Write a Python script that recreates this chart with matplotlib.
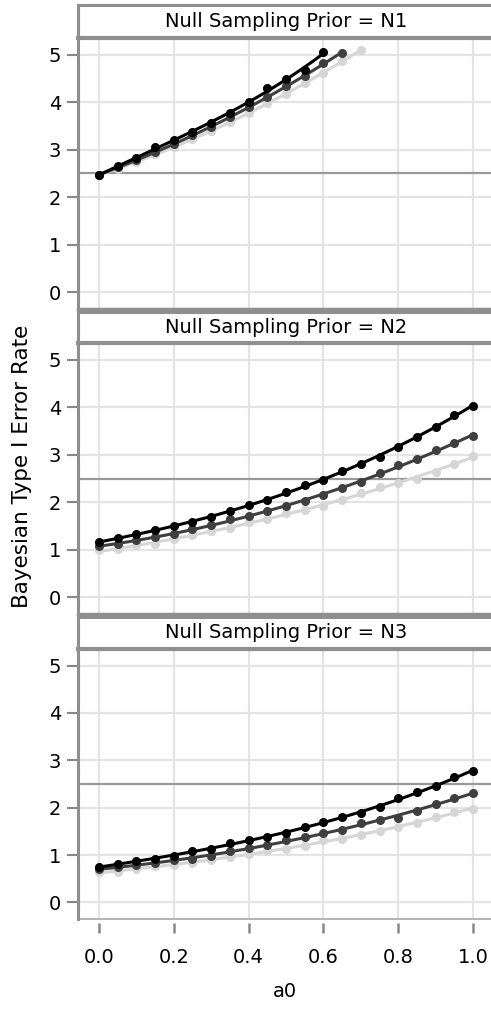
#!/usr/bin/env python3

"""
Bayesian type I error rate against a0, one panel per null sampling prior
"""

import numpy as np
import matplotlib.pyplot as plt

a0 = np.round(np.arange(0, 1.0001, 0.05), 2)

panels = ["N1", "N2", "N3"]

# N1 curves stop early (rates above 5 are not shown)
n1_black = [2.47, 2.65, 2.82, 3.05, 3.20, 3.38, 3.57, 3.77, 4.00, 4.29,
            4.48, 4.68, 5.05]
n1_dark = [2.47, 2.63, 2.78, 2.95, 3.12, 3.30, 3.48, 3.68, 3.90, 4.10,
           4.33, 4.55, 4.83, 5.04]
n1_light = [2.47, 2.60, 2.74, 2.90, 3.05, 3.22, 3.40, 3.58, 3.77, 3.98,
            4.17, 4.40, 4.62, 4.86, 5.10]

n2_black = [1.16, 1.25, 1.33, 1.41, 1.50, 1.59, 1.68, 1.82, 1.95, 2.04,
            2.21, 2.36, 2.47, 2.66, 2.81, 2.95, 3.17, 3.38, 3.59, 3.83, 4.03]
n2_dark = [1.07, 1.13, 1.20, 1.27, 1.34, 1.43, 1.52, 1.64, 1.71, 1.81,
           1.92, 2.03, 2.15, 2.30, 2.43, 2.61, 2.78, 2.91, 3.09, 3.24, 3.40]
n2_light = [0.99, 1.01, 1.10, 1.13, 1.22, 1.31, 1.39, 1.45, 1.59, 1.65,
            1.77, 1.84, 1.92, 2.05, 2.19, 2.33, 2.40, 2.50, 2.64, 2.80, 2.98]

n3_black = [0.74, 0.82, 0.87, 0.92, 0.99, 1.08, 1.13, 1.25, 1.31, 1.39,
            1.46, 1.60, 1.69, 1.81, 1.88, 2.01, 2.20, 2.33, 2.45, 2.64, 2.78]
n3_dark = [0.71, 0.74, 0.78, 0.84, 0.89, 0.92, 0.97, 1.08, 1.15, 1.22,
           1.31, 1.38, 1.46, 1.52, 1.67, 1.74, 1.79, 1.94, 2.07, 2.20, 2.31]
n3_light = [0.64, 0.64, 0.71, 0.76, 0.80, 0.84, 0.90, 0.96, 1.03, 1.08,
            1.13, 1.20, 1.31, 1.34, 1.43, 1.50, 1.60, 1.68, 1.80, 1.91, 1.98]

series = {
    "N1": [n1_light, n1_dark, n1_black],
    "N2": [n2_light, n2_dark, n2_black],
    "N3": [n3_light, n3_dark, n3_black],
}
colors = ["#d6d6d6", "#3f3f3f", "#000000"]
nominal = 2.5

W, H = 491, 1011
FS = 14
plt.rcParams["font.family"] = "DejaVu Sans"
fig = plt.figure(figsize=(W / 100, H / 100), dpi=100)

# (strip top, plot top, plot bottom) in pixels
rows = [(5, 38, 309), (312, 343, 614), (617, 649, 919)]
left, right = 78, 491
spine_gray = "#8f8f8f"


def fy(px):
    return 1 - px / H


for (s_top, p_top, p_bot), name in zip(rows, panels):
    ax = fig.add_axes([left / W, fy(p_bot), (right - left) / W,
                       (p_bot - p_top) / H])
    ax.set_xlim(-0.056, 1.048)
    ax.set_ylim(-0.35, 5.35)
    ax.set_xticks(np.arange(0, 1.01, 0.2))
    ax.set_yticks(range(6))
    ax.grid(True, color="#e4e4e4", linewidth=1.6)
    ax.set_axisbelow(True)
    for side in ("top", "right"):
        ax.spines[side].set_visible(False)
    ax.spines["left"].set_color(spine_gray)
    ax.spines["left"].set_linewidth(2.2)
    ax.tick_params(axis="y", colors="#888888", labelcolor="black",
                   labelsize=FS, length=8, width=1.5, pad=4)
    if name == "N3":
        # ticks sit a little below the axis, as in the original
        ax.spines["bottom"].set_position(("outward", 3))
        ax.spines["bottom"].set_visible(False)
        ax.plot([0, 1], [0, 0], transform=ax.transAxes, color="#a8a8a8",
                linewidth=1.2, clip_on=False)
        ax.tick_params(axis="x", colors="#888888", labelcolor="black",
                       labelsize=FS, length=7, width=1.8, pad=11)
        ax.set_xticklabels(["0.0", "0.2", "0.4", "0.6", "0.8", "1.0"])
        ax.set_xlabel("a0", fontsize=FS, labelpad=11)
    else:
        ax.spines["bottom"].set_color(spine_gray)
        ax.spines["bottom"].set_linewidth(2.5)
        ax.tick_params(axis="x", length=0, labelbottom=False)

    ax.axhline(nominal, color="#999999", linewidth=1.6, zorder=1.5)

    for vals, col in zip(series[name], colors):
        x = a0[:len(vals)]
        y = np.array(vals)
        xs = np.linspace(0, x[-1], 100)
        fit = np.polyval(np.polyfit(x, y, 3), xs)
        ax.plot(xs, fit, color=col, linewidth=2.2,
                solid_capstyle="round", zorder=3)
        ax.plot(x, y, "o", color=col, markersize=5.5, zorder=3)

    # strip header
    sx = fig.add_axes([left / W, fy(p_top), (right - left) / W,
                       (p_top - s_top) / H])
    sx.set_xticks([])
    sx.set_yticks([])
    for sp in sx.spines.values():
        sp.set_color(spine_gray)
        sp.set_linewidth(2.2)
    sx.spines["right"].set_visible(False)
    sx.spines["bottom"].set_linewidth(3)
    sx.text(0.505, 0.5, "Null Sampling Prior = " + name, ha="center",
            va="center", fontsize=FS, transform=sx.transAxes)

fig.text(22 / W, fy(466), "Bayesian Type I Error Rate", rotation=90,
         ha="center", va="center", fontsize=15.5)

fig.savefig("out.png", dpi=100)
